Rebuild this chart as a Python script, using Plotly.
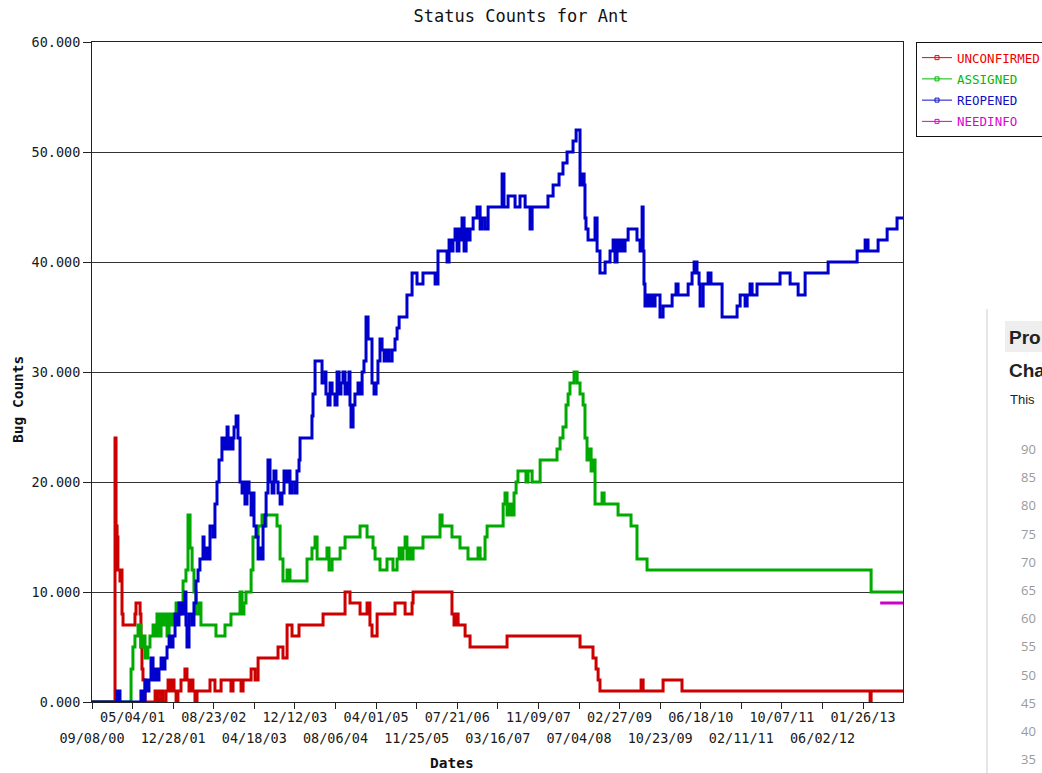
import pandas as pd
import plotly.graph_objects as go

# ---------------- data ----------------
START = pd.Timestamp("2000-09-08")
END_DAY = 4756                      # last day shown (days since START)
TICK_STEP_DAYS = 238
TICK_LABELS = ["09/08/00", "05/04/01", "12/28/01", "08/23/02", "04/18/03",
               "12/12/03", "08/06/04", "04/01/05", "11/25/05", "07/21/06",
               "03/16/07", "11/09/07", "07/04/08", "02/27/09", "10/23/09",
               "06/18/10", "02/11/11", "10/07/11", "06/02/12", "01/26/13"]
Y_TICKS = [0, 10, 20, 30, 40, 50, 60]

# days since START at which the count changes, and the new count
UNCONF_DAYS = [0, 135, 141, 147, 152, 164, 170, 176, 182, 252, 258, 282, 287, 293, 299, 311,
               370, 387, 399, 416, 434, 446, 457, 469, 481, 493, 504, 522, 545, 557, 569, 581,
               592, 604, 616, 692, 721, 757, 815, 827, 874, 886, 933, 956, 974, 1091, 1120,
               1144, 1173, 1214, 1355, 1484, 1513, 1572, 1613, 1630, 1642, 1672, 1777, 1836,
               1877, 1883, 2111, 2123, 2135, 2147, 2188, 2217, 2434, 2862, 2938, 2956, 2968,
               2979, 3220, 3232, 3349, 3460, 4563, 4569, 4756]
UNCONF_VALS = [0, 24, 16, 15, 12, 11, 12, 8, 7, 8, 9, 8, 5, 3, 2, 0,
               1, 0, 1, 0, 1, 2, 1, 2, 1, 0, 1, 2, 3, 2, 1, 2,
               1, 0, 1, 2, 1, 2, 1, 2, 1, 2, 3, 2, 4, 5, 4,
               7, 6, 7, 8, 10, 9, 8, 9, 7, 6, 8, 9, 8,
               9, 10, 8, 7, 8, 7, 6, 5, 6, 5, 4, 3, 2,
               1, 2, 1, 2, 1, 0, 1, 1]

ASSIGNED_DAYS = [0, 229, 240, 252, 270, 287, 299, 311, 328, 340, 358, 370, 381, 393, 405, 416,
                 428, 440, 452, 463, 475, 493, 510, 522, 534, 551, 563, 575, 587, 598, 610,
                 628, 639, 727, 780, 815, 868, 880, 891, 903, 933, 944, 974, 997, 1009, 1021,
                 1085, 1103, 1120, 1144, 1161, 1261, 1290, 1308, 1320, 1378, 1390, 1408, 1455,
                 1484, 1572, 1613, 1648, 1660, 1689, 1730, 1765, 1789, 1801, 1812, 1824, 1836,
                 1847, 1859, 1871, 1883, 1941, 2041, 2053, 2111, 2158, 2205, 2264, 2276, 2305,
                 2317, 2411, 2422, 2434, 2446, 2463, 2475, 2487, 2498, 2545, 2557, 2581, 2628,
                 2727, 2745, 2762, 2780, 2792, 2803, 2827, 2845, 2862, 2880, 2891, 2903, 2915,
                 2927, 2938, 2950, 2991, 3003, 3085, 3161, 3196, 3255, 4569, 4756]
ASSIGNED_VALS = [0, 3, 5, 6, 7, 5, 6, 4, 5, 6, 7, 6, 8, 6, 8, 7,
                 8, 6, 8, 7, 8, 9, 8, 9, 11, 12, 17, 14, 12, 10, 8,
                 9, 7, 6, 7, 8, 10, 8, 9, 10, 12, 15, 16, 17, 16, 17,
                 16, 13, 11, 12, 11, 13, 14, 15, 13, 14, 12, 13, 14,
                 15, 16, 15, 14, 13, 12, 13, 12, 13, 14, 13, 14, 15,
                 13, 14, 13, 14, 15, 17, 16, 15, 14, 13, 14, 13, 15,
                 16, 18, 19, 17, 18, 17, 19, 20, 21, 20, 21, 20, 22,
                 23, 24, 25, 27, 28, 29, 30, 29, 28, 27, 24, 22, 23,
                 21, 22, 18, 19, 18, 17, 16, 13, 12, 10, 10]

REOPENED_DAYS = [0, 147, 164, 287, 299, 311, 323, 334, 346, 358, 370, 381, 393, 405, 416, 428,
                 440, 452, 463, 475, 487, 499, 510, 522, 534, 545, 551, 557, 569, 587, 598,
                 610, 622, 633, 651, 657, 669, 680, 692, 710, 721, 733, 745, 762, 774, 786,
                 792, 798, 809, 815, 827, 833, 845, 856, 868, 880, 886, 897, 909, 921, 933,
                 938, 950, 962, 974, 985, 997, 1003, 1015, 1021, 1032, 1044, 1056, 1067, 1079,
                 1091, 1103, 1114, 1126, 1138, 1150, 1161, 1173, 1191, 1202, 1214, 1220, 1290,
                 1296, 1308, 1349, 1367, 1372, 1384, 1396, 1408, 1425, 1437, 1449, 1460, 1472,
                 1484, 1496, 1507, 1513, 1519, 1531, 1542, 1560, 1572, 1584, 1595, 1607, 1619,
                 1642, 1654, 1666, 1677, 1689, 1701, 1713, 1730, 1742, 1760, 1777, 1789, 1801,
                 1847, 1877, 1906, 1941, 2012, 2029, 2082, 2094, 2106, 2117, 2129, 2141, 2152,
                 2164, 2170, 2182, 2194, 2205, 2217, 2235, 2258, 2276, 2287, 2305, 2323, 2405,
                 2416, 2440, 2481, 2510, 2540, 2569, 2581, 2674, 2704, 2739, 2762, 2786, 2821,
                 2839, 2862, 2874, 2886, 2891, 2897, 2909, 2950, 2962, 2979, 3009, 3038, 3056,
                 3067, 3079, 3091, 3103, 3114, 3126, 3144, 3196, 3214, 3226, 3232, 3237, 3243,
                 3255, 3267, 3279, 3290, 3302, 3331, 3349, 3402, 3425, 3437, 3496, 3519, 3531,
                 3548, 3560, 3566, 3584, 3613, 3630, 3695, 3783, 3801, 3830, 3842, 3859, 3871,
                 3900, 4035, 4094, 4141, 4182, 4317, 4487, 4534, 4551, 4610, 4663, 4721, 4756]
REOPENED_VALS = [0, 1, 0, 1, 0, 2, 1, 2, 4, 2, 3, 2, 3, 4, 3, 4,
                 5, 6, 5, 6, 8, 7, 9, 8, 9, 10, 7, 5, 8, 7, 9,
                 11, 12, 13, 15, 13, 14, 13, 16, 15, 18, 20, 22, 24, 23, 24,
                 25, 23, 24, 23, 24, 25, 26, 24, 20, 19, 20, 18, 20, 19, 17,
                 19, 16, 15, 13, 14, 13, 16, 17, 19, 22, 20, 19, 21, 20,
                 19, 18, 19, 21, 20, 21, 19, 20, 19, 21, 22, 24, 26,
                 28, 31, 29, 30, 28, 27, 29, 28, 27, 30, 28, 29, 30,
                 28, 29, 30, 27, 25, 27, 28, 29, 28, 30, 31, 35, 33,
                 29, 28, 29, 31, 33, 32, 31, 32, 31, 32, 33, 34, 35,
                 37, 39, 38, 39, 38, 41, 40, 42, 41, 42, 43, 41, 43,
                 42, 44, 41, 43, 42, 43, 44, 45, 43, 44, 43, 45, 48,
                 45, 46, 45, 46, 45, 43, 45, 46, 47, 48, 49, 50, 51,
                 52, 47, 48, 47, 44, 43, 42, 44, 41, 39, 40, 41, 42,
                 40, 42, 41, 42, 41, 42, 43, 42, 41, 45, 41, 38, 36,
                 37, 36, 37, 36, 37, 35, 36, 37, 38, 37, 38, 39, 40,
                 39, 38, 36, 38, 39, 38, 35, 36, 37, 36, 37, 38, 37,
                 38, 39, 38, 37, 39, 40, 41, 42, 41, 42, 43, 44, 44]

NEEDINFO_DAYS = [4622, 4756]
NEEDINFO_VALS = [9, 9]

SERIES = [
    ("UNCONFIRMED", UNCONF_DAYS, UNCONF_VALS, "#cc0000", "#ee0000"),
    ("ASSIGNED", ASSIGNED_DAYS, ASSIGNED_VALS, "#00aa00", "#00bb00"),
    ("REOPENED", REOPENED_DAYS, REOPENED_VALS, "#0000cc", "#1010c0"),
    ("NEEDINFO", NEEDINFO_DAYS, NEEDINFO_VALS, "#cc00cc", "#e000d0"),
]

# text of the neighbouring page visible at the right edge of the screenshot
SIDE_HEADINGS = ["Pro", "Cha"]
SIDE_NOTE = "This"
SIDE_NUMBERS = ["90", "85", "80", "75", "70", "65", "60", "55", "50", "45", "40", "35"]

# ---------------- helpers ----------------
def to_dates(days):
    return [START + pd.Timedelta(days=int(d)) for d in days]

W, H = 1042, 773
L, R, T, B = 92, 903, 42, 702          # plot-area pixel box
PW, PH = R - L, B - T

def px(xp):
    return (xp - L) / PW

def py(yp):
    return (B - yp) / PH

MONO = "DejaVu Sans Mono"
x_range = [START, START + pd.Timedelta(days=END_DAY)]
tick_dates = [START + pd.Timedelta(days=i * TICK_STEP_DAYS) for i in range(len(TICK_LABELS))]

fig = go.Figure()

for name, days, vals, col, legcol in SERIES:
    fig.add_trace(go.Scatter(
        x=to_dates(days), y=vals, mode="lines",
        line=dict(color=col, width=3, shape="hv"),
        showlegend=False, hoverinfo="skip",
        xaxis="x2" if name == "NEEDINFO" else "x",
    ))

for name, days, vals, col, legcol in SERIES:
    fig.add_trace(go.Scatter(
        x=[None], y=[None], mode="lines+markers",
        line=dict(color=legcol, width=1),
        marker=dict(symbol="square-open", size=4, color=legcol, line=dict(width=1)),
        name=f'<span style="color:{legcol}">{name}</span>',
        legendgroup=name, showlegend=True,
    ))

axis_font = dict(family=MONO, size=13.5, color="#1a1a1a")

fig.update_layout(
    width=W, height=H,
    margin=dict(l=L, r=W - R, t=T, b=H - B, autoexpand=False),
    paper_bgcolor="white", plot_bgcolor="white",
    title=dict(text="Status Counts for Ant", x=0.5, xanchor="center",
               y=1 - 16 / H, yanchor="middle",
               font=dict(family=MONO, size=17, color="#111111")),
    xaxis=dict(type="date", range=x_range, tickvals=tick_dates,
               ticktext=[lab if i % 2 == 1 else "" for i, lab in enumerate(TICK_LABELS)],
               ticks="outside", ticklen=6, tickcolor="#222222", tickwidth=1,
               showline=True, linecolor="#222222", linewidth=1, mirror=True,
               showgrid=False, zeroline=False, tickfont=axis_font, tickangle=0,
               ticklabelstandoff=-3),
    xaxis2=dict(type="date", range=x_range, overlaying="x", anchor="y", side="bottom",
                tickvals=tick_dates,
                ticktext=[lab if i % 2 == 0 else "" for i, lab in enumerate(TICK_LABELS)],
                ticks="", showline=False, showgrid=False, zeroline=False,
                tickfont=axis_font, tickangle=0, ticklabelstandoff=26),
    yaxis=dict(range=[0, 60], tickvals=Y_TICKS, tickformat=".3f",
               ticks="outside", ticklen=8, tickcolor="#222222",
               showline=True, linecolor="#222222", linewidth=1, mirror=True,
               showgrid=True, gridcolor="#333333", gridwidth=1, zeroline=False,
               tickfont=axis_font),
    legend=dict(x=px(916), y=1, xanchor="left", yanchor="top",
                bordercolor="#111111", borderwidth=1, bgcolor="white",
                font=dict(family=MONO, size=12.5), itemwidth=30, tracegroupgap=2),
    showlegend=True,
)

annotations = [
    dict(text="<b>Bug Counts</b>", x=px(18), y=py(400), xref="paper", yref="paper",
         xanchor="center", yanchor="middle",
         textangle=-90, showarrow=False, font=dict(family=MONO, size=14.5, color="#111111")),
    dict(text="<b>Dates</b>", x=px(452), y=py(763), xref="paper", yref="paper",
         xanchor="center", yanchor="middle",
         showarrow=False, font=dict(family=MONO, size=14.5, color="#111111")),
]
for i, h in enumerate(SIDE_HEADINGS):
    annotations.append(dict(text=f"<b>{h}</b>", x=px(1007), y=py(337 + 33 * i),
                            xref="paper", yref="paper", xanchor="left", yanchor="middle",
                            showarrow=False,
                            font=dict(family="Liberation Sans", size=19, color="#222222")))
annotations.append(dict(text=SIDE_NOTE, x=px(1008), y=py(399), xref="paper", yref="paper",
                        xanchor="left", yanchor="middle", showarrow=False,
                        font=dict(family="Liberation Sans", size=13, color="#222222")))
for i, n in enumerate(SIDE_NUMBERS):
    annotations.append(dict(text=n, x=px(1038), y=py(449 + 28.2 * i), xref="paper", yref="paper",
                            xanchor="right", yanchor="middle", showarrow=False,
                            font=dict(family="Open Sans", size=13, color="#9a9a9a")))
fig.update_layout(annotations=annotations)

fig.add_shape(type="rect", xref="paper", yref="paper", x0=px(1005), x1=px(1060),
              y0=py(352), y1=py(321), fillcolor="#eeeeee", line=dict(width=0), layer="below")
fig.add_shape(type="line", xref="paper", yref="paper", x0=px(987), x1=px(987),
              y0=py(309), y1=py(780), line=dict(color="#cccccc", width=1))

fig.write_html("out.html", config={"displayModeBar": False},
               post_script="document.body.style.margin='0px';document.body.style.overflow='hidden';")
